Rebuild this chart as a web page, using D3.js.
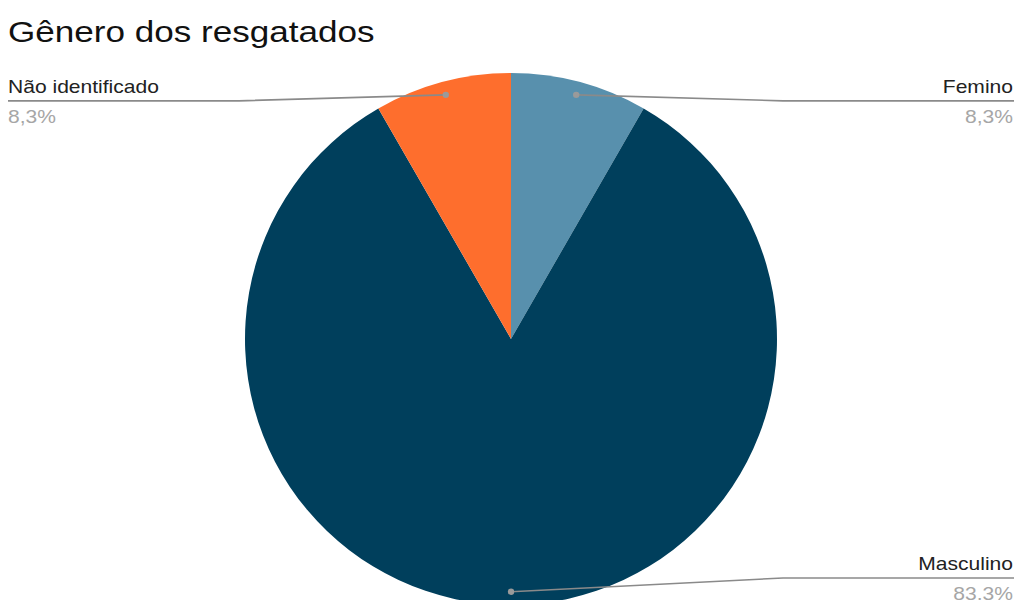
<!DOCTYPE html>
<html>
<head>
<meta charset="utf-8">
<script src="https://cdn.jsdelivr.net/npm/d3@7"></script>
<style>
  html, body { margin: 0; padding: 0; background: #fff; }
  svg { display: block; }
  text { font-family: "Liberation Sans", Arial, sans-serif; }
</style>
</head>
<body>
<svg id="chart" width="1019" height="600"></svg>
<script>
const title = "Gênero dos resgatados";
const categories = ["Femino", "Masculino", "Não identificado"];
const values = [8.3, 83.3, 8.3];
const colors = ["#5890ad", "#003f5c", "#fe6e2d"];

const W = 1019, H = 600;
const cx = 511, cy = 339, R = 266;
const stretch = 1.17;

const svg = d3.select("#chart");

svg.append("text")
  .attr("transform", `translate(8,42) scale(${stretch},1)`)
  .attr("font-size", 30)
  .attr("fill", "#111")
  .text(title);

const data = categories.map((c, i) => ({ name: c, value: values[i], color: colors[i] }));
const pie = d3.pie().sort(null).value(d => d.value);
const arcs = pie(data);
const arc = d3.arc().innerRadius(0).outerRadius(R);
const dotArc = d3.arc().innerRadius(R * 0.95).outerRadius(R * 0.95);

const g = svg.append("g").attr("transform", `translate(${cx},${cy})`);
g.selectAll("path.slice").data(arcs).enter().append("path")
  .attr("class", "slice")
  .attr("d", arc)
  .attr("fill", d => d.data.color);

const fmt = v => d3.format(".1f")(v).replace(".", ",") + "%";

arcs.forEach(a => {
  const [dx, dy] = dotArc.centroid(a);
  const px = cx + dx, py = cy + dy;
  const right = (a.startAngle + a.endAngle) / 2 < Math.PI + 0.01;
  const lineY = Math.min(py + 6, H - 22);
  const elbowX = right ? cx + R + 6 : cx - R - 6;
  const endX = right ? W - 5 : 8;
  const lg = svg.append("g");
  lg.append("polyline")
    .attr("points", `${px},${py} ${elbowX},${lineY} ${endX},${lineY}`)
    .attr("fill", "none")
    .attr("stroke", "#8a8a8a")
    .attr("stroke-width", 1.6);
  lg.append("circle")
    .attr("cx", px).attr("cy", py).attr("r", 3.2)
    .attr("fill", "#9a9a9a");
  const anchor = right ? "end" : "start";
  const tx = right ? W - 6 : 8;
  lg.append("text")
    .attr("transform", `translate(${tx},${lineY - 8}) scale(${stretch},1)`)
    .attr("text-anchor", anchor)
    .attr("font-size", 18)
    .attr("fill", "#222")
    .text(a.data.name);
  lg.append("text")
    .attr("transform", `translate(${tx},${lineY + 22}) scale(${stretch},1)`)
    .attr("text-anchor", anchor)
    .attr("font-size", 18)
    .attr("fill", "#a6a6a6")
    .text(fmt(a.data.value));
});
</script>
</body>
</html>
